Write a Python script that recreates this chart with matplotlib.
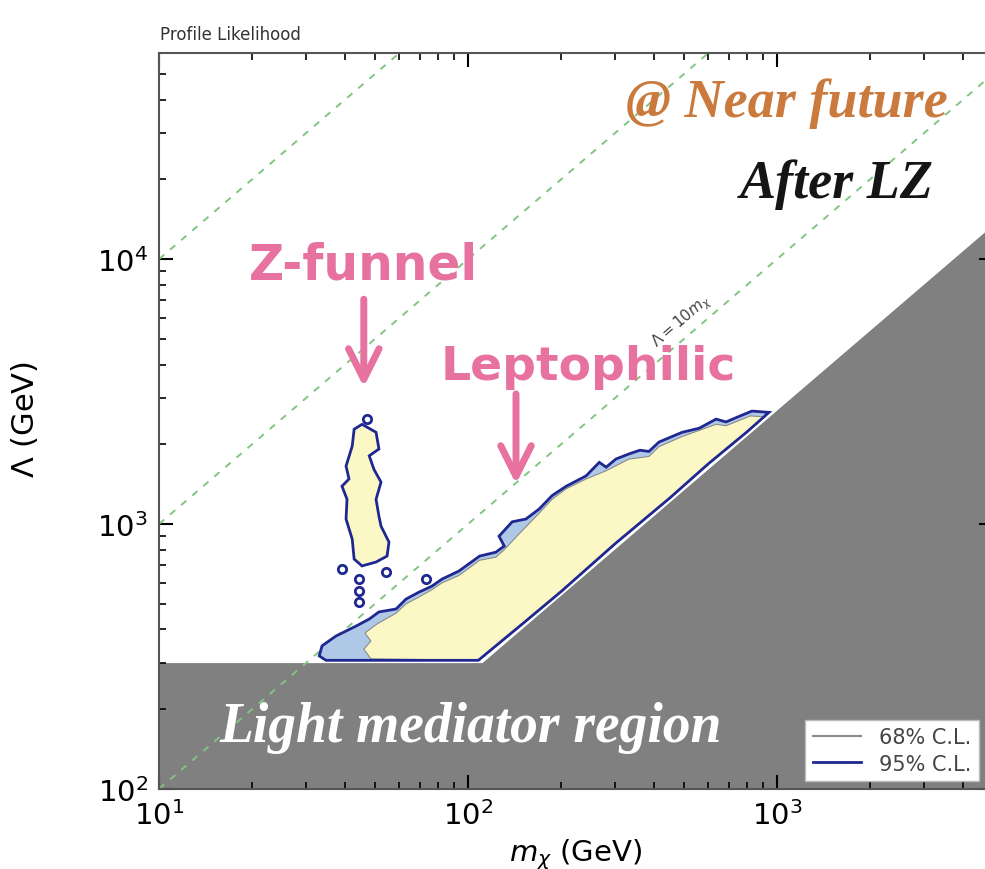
import numpy as np
import matplotlib
matplotlib.use("Agg")
from matplotlib import pyplot as plt

# axis ranges
xlim = (10, 5000)
ylim = (100, 6.0e4)

# excluded (light mediator / kinematic) region boundary
gray_m = [10, 111, 5000]
gray_lam = [300, 300, 13500]

# reference lines Lambda = k * m
dash_m = [10, 5000]
dash_lam = {
    10: [100, 5.0e4],
    100: [1.0e3, 5.0e5],
    1000: [1.0e4, 5.0e6],
}

# lower edge of the leptophilic band (along the gray boundary)
low_m = [34.7, 108, 150, 200, 300, 450, 600, 800, 942]
low_lam = [306, 306, 420, 556, 845, 1255, 1690, 2230, 2640]

# 95% C.L. upper edge, right to left
up95_m = [830, 760, 684, 635, 560, 493, 415, 385, 360, 332, 301, 280, 266, 241,
          208, 187, 170, 154, 139, 126, 131, 123, 109, 93.5, 82.4, 76.4, 69.3,
          63.0, 58.5, 51.5, 47.9, 43.4, 37.4, 33.7, 33.0]
up95_lam = [2670, 2560, 2430, 2490, 2300, 2220, 2040, 1880, 1900, 1840, 1760,
            1640, 1710, 1520, 1390, 1280, 1140, 1045, 1020, 900, 826, 783, 757,
            665, 620, 583, 553, 521, 478, 466, 438, 412, 378, 347, 318]

# 68% C.L. upper / left edge, right to left
up68_m = [908, 820, 684, 635, 493, 415, 385, 332, 280, 241, 208, 187, 170, 146,
          131, 123, 109, 93.5, 82.4, 76.4, 69.3, 63.0, 58.5, 50.8, 46.4, 48.5,
          46.0, 48.5]
up68_lam = [2540, 2560, 2350, 2380, 2140, 1960, 1800, 1760, 1590, 1480, 1360,
            1240, 1100, 916, 800, 750, 730, 640, 600, 565, 530, 500, 461, 420,
            388, 362, 337, 310]

# Z-funnel island outline
zf_m = [45.4, 50.4, 51.5, 47.9, 49.6, 52.3, 50.4, 51.5, 52.3, 55.5, 54.7, 50.4,
        45.4, 42.8, 42.2, 40.3, 40.6, 39.1, 41.2, 40.3, 42.2, 42.8]
zf_lam = [2380, 2220, 1920, 1810, 1610, 1440, 1240, 1070, 982, 855, 757, 719,
          695, 738, 877, 1045, 1240, 1390, 1480, 1655, 1970, 2280]

# small isolated 95% islands
blob_m = [47.1, 39.1, 44.4, 54.3, 44.4, 44.4, 73.1]
blob_lam = [2490, 676, 620, 659, 558, 508, 620]

navy = "#1f2790"
yellow = "#fcf8c6"
lblue = "#afc8e8"
pink = "#e8729f"
gray = "#808080"
green = "#82c482"

fig = plt.figure(figsize=(9.85, 8.7), dpi=100)
ax = fig.add_axes([159 / 985, 80 / 870, 834 / 985, 736 / 870])
ax.set_xscale("log")
ax.set_yscale("log")
ax.set_xlim(*xlim)
ax.set_ylim(*ylim)

# gray excluded region
ax.fill_between(gray_m, ylim[0], gray_lam, color=gray, lw=0, zorder=1)

# dashed guide lines
for k in dash_lam:
    ax.plot(dash_m, dash_lam[k], ls=(0, (3.5, 4)), color=green, lw=1.4, zorder=2)

# contours
poly95_m = low_m + up95_m
poly95_lam = low_lam + up95_lam
poly68_m = low_m[1:] + up68_m
poly68_lam = low_lam[1:] + up68_lam
ax.fill(poly95_m, poly95_lam, color=lblue, lw=0, zorder=3)
ax.fill(poly68_m, poly68_lam, color=yellow, lw=0, zorder=4)
ax.fill(poly68_m, poly68_lam, fill=False, ec="#8a8a8a", lw=0.8, zorder=5)
ax.fill(poly95_m, poly95_lam, fill=False, ec=navy, lw=2.0, zorder=6)
ax.fill(zf_m, zf_lam, color=yellow, ec=navy, lw=2.0, zorder=6)
ax.plot(blob_m, blob_lam, "o", ms=6, mfc="none", mec=navy, mew=2.0, zorder=6)

# legend handles
ax.plot([], [], color="#8a8a8a", lw=1.5, label="68% C.L.")
ax.plot([], [], color=navy, lw=2.0, label="95% C.L.")
leg = ax.legend(loc="lower left", bbox_to_anchor=(0.775, 0.011), fontsize=15,
                handlelength=2.3, frameon=True, fancybox=False, borderpad=0.35,
                labelspacing=0.3, handletextpad=0.9, framealpha=1.0,
                borderaxespad=0)
leg.get_frame().set_edgecolor("#bbbbbb")
leg.get_frame().set_linewidth(1.0)
for t in leg.get_texts():
    t.set_color("#444444")
leg.set_zorder(10)

# annotations
ax.text(102, 171, "Light mediator region", color="white", fontsize=40,
        family="Liberation Serif", weight="bold", style="italic",
        ha="center", va="center", zorder=8)
ax.text(325, 39100, "@ Near future", color="#c97a3c", fontsize=39,
        family="Liberation Serif", weight="bold", style="italic",
        ha="left", va="center", zorder=8)
ax.text(3220, 19200, "After LZ", color="#151515", fontsize=39,
        family="Liberation Serif", weight="bold", style="italic",
        ha="right", va="center", zorder=8)
ax.text(46, 9570, "Z-funnel", color=pink, fontsize=35, family="DejaVu Sans",
        weight="bold", ha="center", va="center", zorder=8)
ax.text(246, 3950, "Leptophilic", color=pink, fontsize=34, family="DejaVu Sans",
        weight="bold", ha="center", va="center", zorder=8)
ax.annotate("", xy=(46, 3290), xytext=(46, 7060), zorder=8,
            arrowprops=dict(arrowstyle="->,head_length=2.2,head_width=1.1",
                            color=pink, lw=5, shrinkA=0, shrinkB=0))
ax.annotate("", xy=(143, 1416), xytext=(143, 3100), zorder=8,
            arrowprops=dict(arrowstyle="->,head_length=2.2,head_width=1.1",
                            color=pink, lw=5, shrinkA=0, shrinkB=0))
ax.text(493, 5830, r"$\Lambda=10m_\chi$", color="#444444", fontsize=11,
        rotation=40.6, ha="center", va="center", zorder=8)

fig.text(160 / 985, 1 - 35 / 870, "Profile Likelihood", fontsize=12,
         color="#333333", ha="left", va="center")

# axes styling
ax.tick_params(which="both", direction="in", top=True, right=True,
               labelsize=21, colors="black", pad=8)
ax.tick_params(which="major", length=10, width=1.5)
ax.tick_params(which="minor", length=5, width=1.2)
for s in ax.spines.values():
    s.set_color("#555555")
    s.set_linewidth(1.5)
    s.set_zorder(9)

ax.set_xlabel(r"$m_\chi$ (GeV)", fontsize=21)
ax.set_ylabel(r"$\Lambda$ (GeV)", fontsize=22)
ax.xaxis.set_label_coords(0.5, -0.064)
ax.yaxis.set_label_coords(-0.143, 0.503)

fig.savefig("out.png", dpi=100)
